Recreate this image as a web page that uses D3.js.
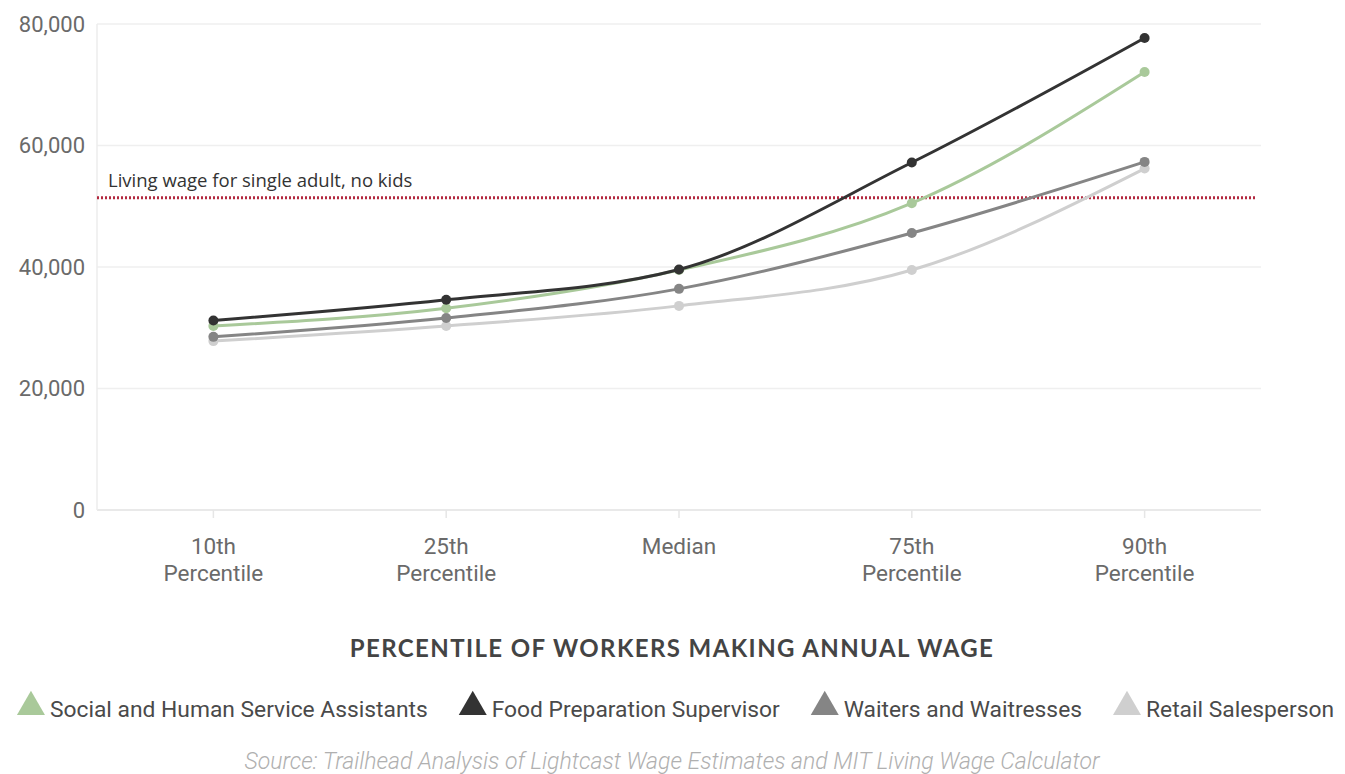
<!DOCTYPE html>
<html>
<head>
<meta charset="utf-8">
<script src="https://cdn.jsdelivr.net/npm/d3@7"></script>
<style>
  html, body { margin: 0; padding: 0; background: #fff; }
  svg { display: block; }
</style>
</head>
<body>
<svg id="chart" width="1345" height="774"></svg>
<script>
// Wage percentiles on the x axis
const categories = ["10th Percentile", "25th Percentile", "Median", "75th Percentile", "90th Percentile"];
const tickLabels = [["10th", "Percentile"], ["25th", "Percentile"], ["Median"], ["75th", "Percentile"], ["90th", "Percentile"]];

// Annual wage by percentile for each occupation
const seriesNames = ["Social and Human Service Assistants", "Food Preparation Supervisor", "Waiters and Waitresses", "Retail Salesperson"];
const socialValues = [30300, 33200, 39500, 50500, 72100];
const foodPrepValues = [31200, 34600, 39600, 57200, 77700];
const waitersValues = [28500, 31600, 36400, 45600, 57300];
const retailValues = [27800, 30300, 33600, 39500, 56200];
const seriesColors = ["#a9c99a", "#333333", "#858585", "#cfcfcf"];

// Living wage reference
const livingWage = 51400;
const livingWageLabel = "Living wage for single adult, no kids";

const yTicks = [0, 20000, 40000, 60000, 80000];
const axisTitle = "PERCENTILE OF WORKERS MAKING ANNUAL WAGE";
const sourceNote = "Source: Trailhead Analysis of Lightcast Wage Estimates and MIT Living Wage Calculator";

const series = seriesNames.map((name, i) => ({
  name,
  color: seriesColors[i],
  values: [socialValues, foodPrepValues, waitersValues, retailValues][i]
}));

const svg = d3.select("#chart");
const plot = { left: 97, right: 1261, top: 24, bottom: 510 };

const x = d3.scalePoint().domain(categories).range([plot.left, plot.right]).padding(0.5);
const y = d3.scaleLinear().domain([0, 80000]).range([plot.bottom, plot.top]);

// Horizontal grid lines
svg.append("g")
  .selectAll("line")
  .data(yTicks)
  .join("line")
  .attr("x1", plot.left).attr("x2", plot.right)
  .attr("y1", d => y(d)).attr("y2", d => y(d))
  .attr("stroke", d => d === 0 ? "#e2e2e2" : "#efefef")
  .attr("stroke-width", 1.5);

// Left axis line
svg.append("line")
  .attr("x1", plot.left).attr("x2", plot.left)
  .attr("y1", plot.top).attr("y2", plot.bottom)
  .attr("stroke", "#ececec").attr("stroke-width", 1.5);

// Y axis labels
const yAxis = d3.axisLeft(y).tickValues(yTicks).tickFormat(d3.format(",")).tickSize(0).tickPadding(12);
const yG = svg.append("g").attr("transform", `translate(${plot.left},0)`).call(yAxis);
yG.select(".domain").remove();
yG.selectAll("text")
  .attr("font-family", "Roboto, sans-serif")
  .attr("font-size", 22)
  .attr("fill", "#6a6a6a");

// X axis ticks and labels
const xG = svg.append("g").attr("transform", `translate(0,${plot.bottom})`);
xG.selectAll("line")
  .data(categories)
  .join("line")
  .attr("x1", d => x(d)).attr("x2", d => x(d))
  .attr("y1", 0).attr("y2", 8)
  .attr("stroke", "#e6e6e6").attr("stroke-width", 1.5);
const xLabels = xG.selectAll("text")
  .data(categories)
  .join("text")
  .attr("x", d => x(d))
  .attr("y", 44)
  .attr("text-anchor", "middle")
  .attr("font-family", "Roboto, sans-serif")
  .attr("font-size", 22.5)
  .attr("fill", "#6a6a6a");
xLabels.each(function(d, i) {
  const t = d3.select(this);
  tickLabels[i].forEach((line, j) => {
    t.append("tspan").attr("x", x(d)).attr("dy", j === 0 ? 0 : 27).text(line);
  });
});

// Living wage reference line
svg.append("line")
  .attr("x1", plot.left).attr("x2", plot.right - 4)
  .attr("y1", y(livingWage)).attr("y2", y(livingWage))
  .attr("stroke", "#b3283f")
  .attr("stroke-width", 3)
  .attr("stroke-dasharray", "2,2");
svg.append("text")
  .attr("x", 108)
  .attr("y", y(livingWage) - 11)
  .attr("font-family", "'Open Sans', sans-serif")
  .attr("font-size", 18.5)
  .attr("fill", "#333")
  .text(livingWageLabel);

// Series lines and markers (drawn lightest first so darker lines sit on top)
const line = d3.line()
  .x((d, i) => x(categories[i]))
  .y(d => y(d))
  .curve(d3.curveMonotoneX);

const drawOrder = [3, 2, 0, 1];
drawOrder.forEach(k => {
  const s = series[k];
  const g = svg.append("g");
  g.append("path")
    .attr("d", line(s.values))
    .attr("fill", "none")
    .attr("stroke", s.color)
    .attr("stroke-width", 3);
  g.selectAll("circle")
    .data(s.values)
    .join("circle")
    .attr("cx", (d, i) => x(categories[i]))
    .attr("cy", d => y(d))
    .attr("r", 5)
    .attr("fill", s.color);
});

// Axis title
svg.append("text")
  .attr("x", 672)
  .attr("y", 657)
  .attr("text-anchor", "middle")
  .attr("font-family", "Lato, sans-serif")
  .attr("font-weight", "bold")
  .attr("font-size", 24)
  .attr("letter-spacing", 1.4)
  .attr("fill", "#444")
  .text(axisTitle);

// Legend with triangle symbols
const legend = svg.append("g");
const tri = d3.symbol().type(d3.symbolTriangle).size(340);
let cursor = 0;
const gap = 31;
series.forEach((s) => {
  const item = legend.append("g");
  item.append("path")
    .attr("d", tri())
    .attr("transform", "translate(14,-1)")
    .attr("fill", s.color);
  const txt = item.append("text")
    .attr("x", 33)
    .attr("y", 9)
    .attr("font-family", "Roboto, sans-serif")
    .attr("font-size", 22.8)
    .attr("fill", "#4a4a4a")
    .text(s.name);
  const w = 33 + txt.node().getComputedTextLength();
  item.attr("transform", `translate(${cursor},708)`);
  cursor += w + gap;
});
const legendWidth = cursor - gap;
legend.attr("transform", `translate(${(1345 - legendWidth) / 2 + 3},0)`);

// Source note
svg.append("text")
  .attr("x", 672)
  .attr("y", 769)
  .attr("text-anchor", "middle")
  .attr("font-family", "Roboto, sans-serif")
  .attr("font-style", "italic")
  .attr("font-weight", 300)
  .attr("font-size", 23)
  .attr("fill", "#b0b0b0")
  .text(sourceNote);
</script>
</body>
</html>
